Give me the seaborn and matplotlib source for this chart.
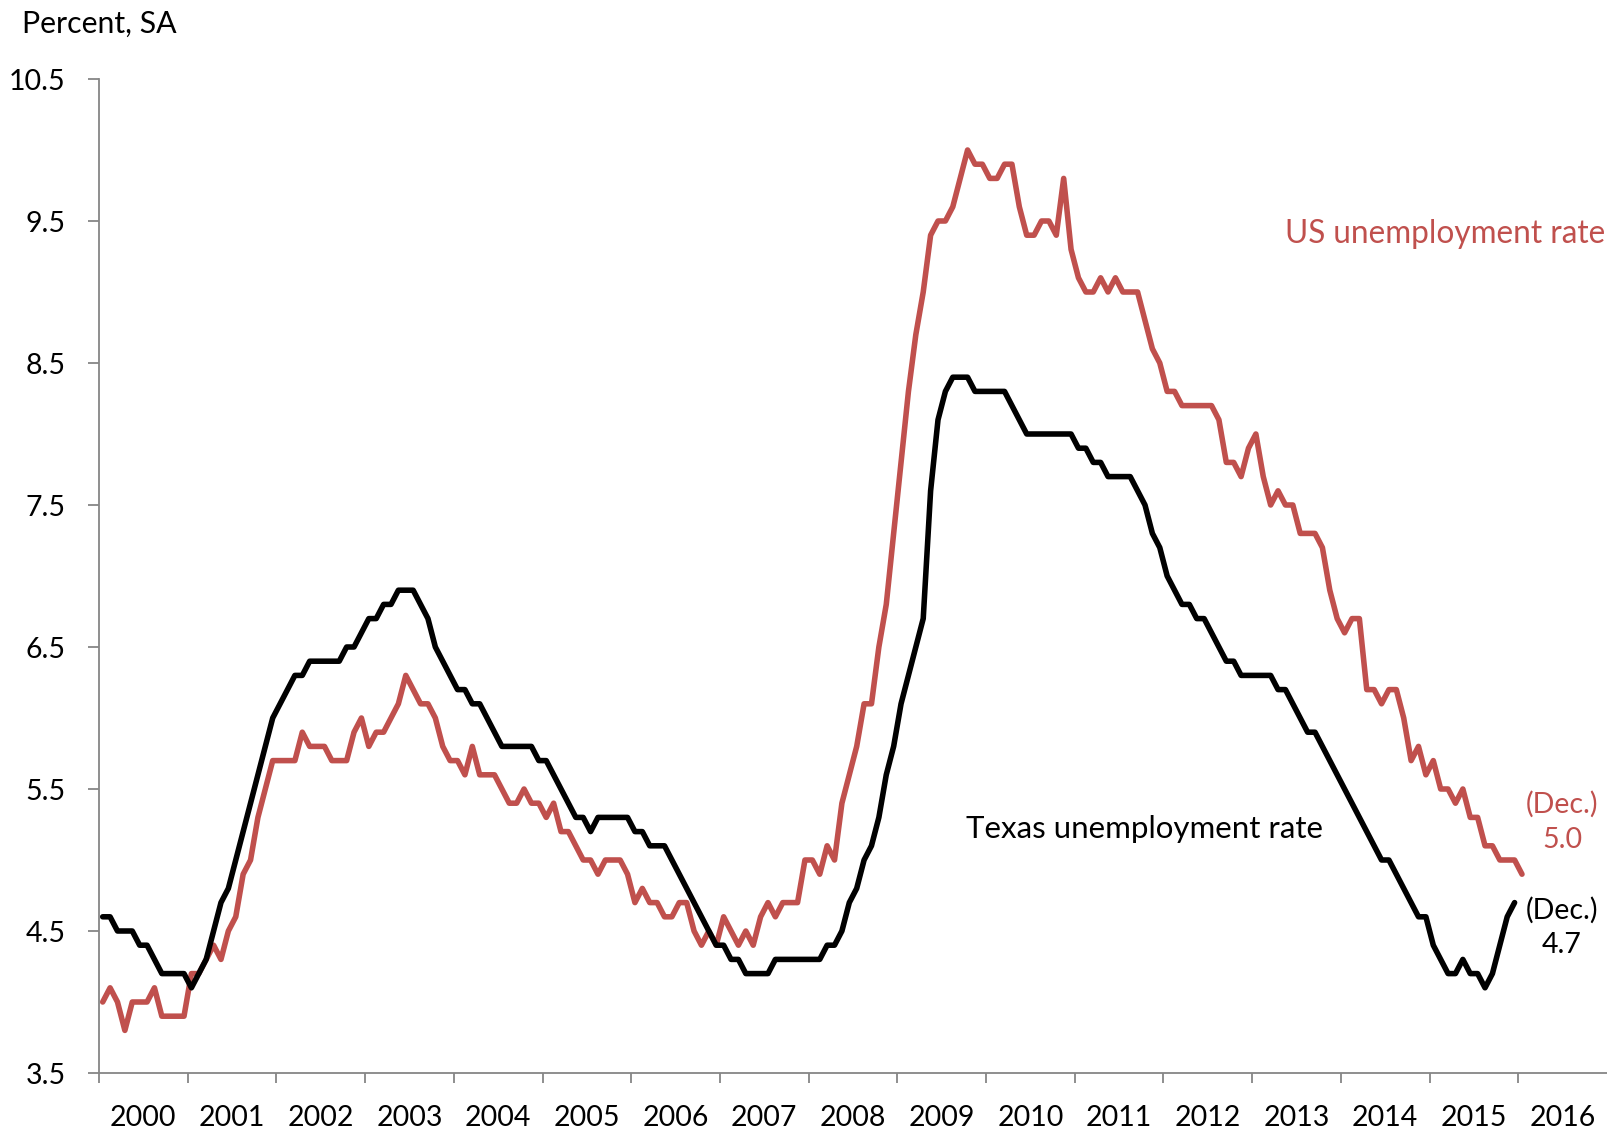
import numpy as np
import pandas as pd
import matplotlib
matplotlib.use("Agg")
import matplotlib.pyplot as plt
import seaborn as sns

# ---------------- data (monthly, seasonally adjusted, %) ----------------
us_2000 = [4.0, 4.1, 4.0, 3.8, 4.0, 4.0, 4.0, 4.1, 3.9, 3.9, 3.9, 3.9]
us_2001 = [4.2, 4.2, 4.3, 4.4, 4.3, 4.5, 4.6, 4.9, 5.0, 5.3, 5.5, 5.7]
us_2002 = [5.7, 5.7, 5.7, 5.9, 5.8, 5.8, 5.8, 5.7, 5.7, 5.7, 5.9, 6.0]
us_2003 = [5.8, 5.9, 5.9, 6.0, 6.1, 6.3, 6.2, 6.1, 6.1, 6.0, 5.8, 5.7]
us_2004 = [5.7, 5.6, 5.8, 5.6, 5.6, 5.6, 5.5, 5.4, 5.4, 5.5, 5.4, 5.4]
us_2005 = [5.3, 5.4, 5.2, 5.2, 5.1, 5.0, 5.0, 4.9, 5.0, 5.0, 5.0, 4.9]
us_2006 = [4.7, 4.8, 4.7, 4.7, 4.6, 4.6, 4.7, 4.7, 4.5, 4.4, 4.5, 4.4]
us_2007 = [4.6, 4.5, 4.4, 4.5, 4.4, 4.6, 4.7, 4.6, 4.7, 4.7, 4.7, 5.0]
us_2008 = [5.0, 4.9, 5.1, 5.0, 5.4, 5.6, 5.8, 6.1, 6.1, 6.5, 6.8, 7.3]
us_2009 = [7.8, 8.3, 8.7, 9.0, 9.4, 9.5, 9.5, 9.6, 9.8, 10.0, 9.9, 9.9]
us_2010 = [9.8, 9.8, 9.9, 9.9, 9.6, 9.4, 9.4, 9.5, 9.5, 9.4, 9.8, 9.3]
us_2011 = [9.1, 9.0, 9.0, 9.1, 9.0, 9.1, 9.0, 9.0, 9.0, 8.8, 8.6, 8.5]
us_2012 = [8.3, 8.3, 8.2, 8.2, 8.2, 8.2, 8.2, 8.1, 7.8, 7.8, 7.7, 7.9]
us_2013 = [8.0, 7.7, 7.5, 7.6, 7.5, 7.5, 7.3, 7.3, 7.3, 7.2, 6.9, 6.7]
us_2014 = [6.6, 6.7, 6.7, 6.2, 6.2, 6.1, 6.2, 6.2, 6.0, 5.7, 5.8, 5.6]
us_2015 = [5.7, 5.5, 5.5, 5.4, 5.5, 5.3, 5.3, 5.1, 5.1, 5.0, 5.0, 5.0]
us_2016 = [4.9]

tx_2000 = [4.6, 4.6, 4.5, 4.5, 4.5, 4.4, 4.4, 4.3, 4.2, 4.2, 4.2, 4.2]
tx_2001 = [4.1, 4.2, 4.3, 4.5, 4.7, 4.8, 5.0, 5.2, 5.4, 5.6, 5.8, 6.0]
tx_2002 = [6.1, 6.2, 6.3, 6.3, 6.4, 6.4, 6.4, 6.4, 6.4, 6.5, 6.5, 6.6]
tx_2003 = [6.7, 6.7, 6.8, 6.8, 6.9, 6.9, 6.9, 6.8, 6.7, 6.5, 6.4, 6.3]
tx_2004 = [6.2, 6.2, 6.1, 6.1, 6.0, 5.9, 5.8, 5.8, 5.8, 5.8, 5.8, 5.7]
tx_2005 = [5.7, 5.6, 5.5, 5.4, 5.3, 5.3, 5.2, 5.3, 5.3, 5.3, 5.3, 5.3]
tx_2006 = [5.2, 5.2, 5.1, 5.1, 5.1, 5.0, 4.9, 4.8, 4.7, 4.6, 4.5, 4.4]
tx_2007 = [4.4, 4.3, 4.3, 4.2, 4.2, 4.2, 4.2, 4.3, 4.3, 4.3, 4.3, 4.3]
tx_2008 = [4.3, 4.3, 4.4, 4.4, 4.5, 4.7, 4.8, 5.0, 5.1, 5.3, 5.6, 5.8]
tx_2009 = [6.1, 6.3, 6.5, 6.7, 7.6, 8.1, 8.3, 8.4, 8.4, 8.4, 8.3, 8.3]
tx_2010 = [8.3, 8.3, 8.3, 8.2, 8.1, 8.0, 8.0, 8.0, 8.0, 8.0, 8.0, 8.0]
tx_2011 = [7.9, 7.9, 7.8, 7.8, 7.7, 7.7, 7.7, 7.7, 7.6, 7.5, 7.3, 7.2]
tx_2012 = [7.0, 6.9, 6.8, 6.8, 6.7, 6.7, 6.6, 6.5, 6.4, 6.4, 6.3, 6.3]
tx_2013 = [6.3, 6.3, 6.3, 6.2, 6.2, 6.1, 6.0, 5.9, 5.9, 5.8, 5.7, 5.6]
tx_2014 = [5.5, 5.4, 5.3, 5.2, 5.1, 5.0, 5.0, 4.9, 4.8, 4.7, 4.6, 4.6]
tx_2015 = [4.4, 4.3, 4.2, 4.2, 4.3, 4.2, 4.2, 4.1, 4.2, 4.4, 4.6, 4.7]

year_labels = [str(y) for y in range(2000, 2017)]
y_tick_values = [3.5, 4.5, 5.5, 6.5, 7.5, 8.5, 9.5, 10.5]

us_rate = (us_2000 + us_2001 + us_2002 + us_2003 + us_2004 + us_2005 + us_2006 +
           us_2007 + us_2008 + us_2009 + us_2010 + us_2011 + us_2012 + us_2013 +
           us_2014 + us_2015 + us_2016)
tx_rate = (tx_2000 + tx_2001 + tx_2002 + tx_2003 + tx_2004 + tx_2005 + tx_2006 +
           tx_2007 + tx_2008 + tx_2009 + tx_2010 + tx_2011 + tx_2012 + tx_2013 +
           tx_2014 + tx_2015)

# month centres in fractional years
us_df = pd.DataFrame({"t": 2000 + (np.arange(len(us_rate)) + 0.5) / 12, "rate": us_rate})
tx_df = pd.DataFrame({"t": 2000 + (np.arange(len(tx_rate)) + 0.5) / 12, "rate": tx_rate})

# ---------------- style ----------------
sns.set_style("white")
plt.rcParams["font.family"] = ["Lato", "DejaVu Sans"]

RED = "#C0504D"
GREY = "#868686"

W, H = 1607, 1133
fig = plt.figure(figsize=(W / 100, H / 100), dpi=100)
ax = fig.add_axes([99 / W, 1 - 1073 / H, (W - 99) / W, (1073 - 79) / H])

sns.lineplot(data=us_df, x="t", y="rate", ax=ax, color=RED, linewidth=4.0,
             solid_joinstyle="round", solid_capstyle="round")
sns.lineplot(data=tx_df, x="t", y="rate", ax=ax, color="black", linewidth=4.0,
             solid_joinstyle="round", solid_capstyle="round")

ax.set_xlim(2000, 2017)
ax.set_ylim(3.5, 10.5)
ax.set_xlabel("")
ax.set_ylabel("")

for s in ["top", "right"]:
    ax.spines[s].set_visible(False)
for s in ["left", "bottom"]:
    ax.spines[s].set_color(GREY)
    ax.spines[s].set_linewidth(1.3)

ax.set_yticks(y_tick_values)
ax.set_yticklabels([f"{v:.1f}" for v in y_tick_values])
ax.tick_params(axis="y", direction="out", length=8, width=1.3, color=GREY,
               labelsize=20.5, pad=16, labelcolor="black", left=True)

ax.set_xticks(list(range(2000, 2017)))
ax.set_xticklabels([])
ax.set_xticks([y + 0.5 for y in range(2000, 2017)], minor=True)
ax.set_xticklabels(year_labels, minor=True)
ax.tick_params(axis="x", which="major", direction="out", length=7.5, width=1.3,
               color=GREY, bottom=True)
ax.tick_params(axis="x", which="minor", length=0, labelsize=20.5, pad=23,
               labelcolor="black", bottom=True)
ax.grid(False)

# ---------------- annotations ----------------
def ftext(x, y, s, **kw):
    fig.text(x / W, 1 - y / H, s, **kw)

ftext(22, 33, "Percent, SA", fontsize=21.8, color="black", va="baseline", ha="left")
ftext(1285, 243, "US unemployment rate", fontsize=22.7, color=RED, va="baseline", ha="left")
ftext(966, 838, "Texas unemployment rate", fontsize=22.5, color="black", va="baseline", ha="left")
ftext(1562, 813, "(Dec.)", fontsize=20.5, color=RED, va="baseline", ha="center")
ftext(1562, 848, "5.0", fontsize=20.5, color=RED, va="baseline", ha="center")
ftext(1562, 919, "(Dec.)", fontsize=20.5, color="black", va="baseline", ha="center")
ftext(1562, 953, "4.7", fontsize=20.5, color="black", va="baseline", ha="center")

fig.savefig("out.png", dpi=100)
